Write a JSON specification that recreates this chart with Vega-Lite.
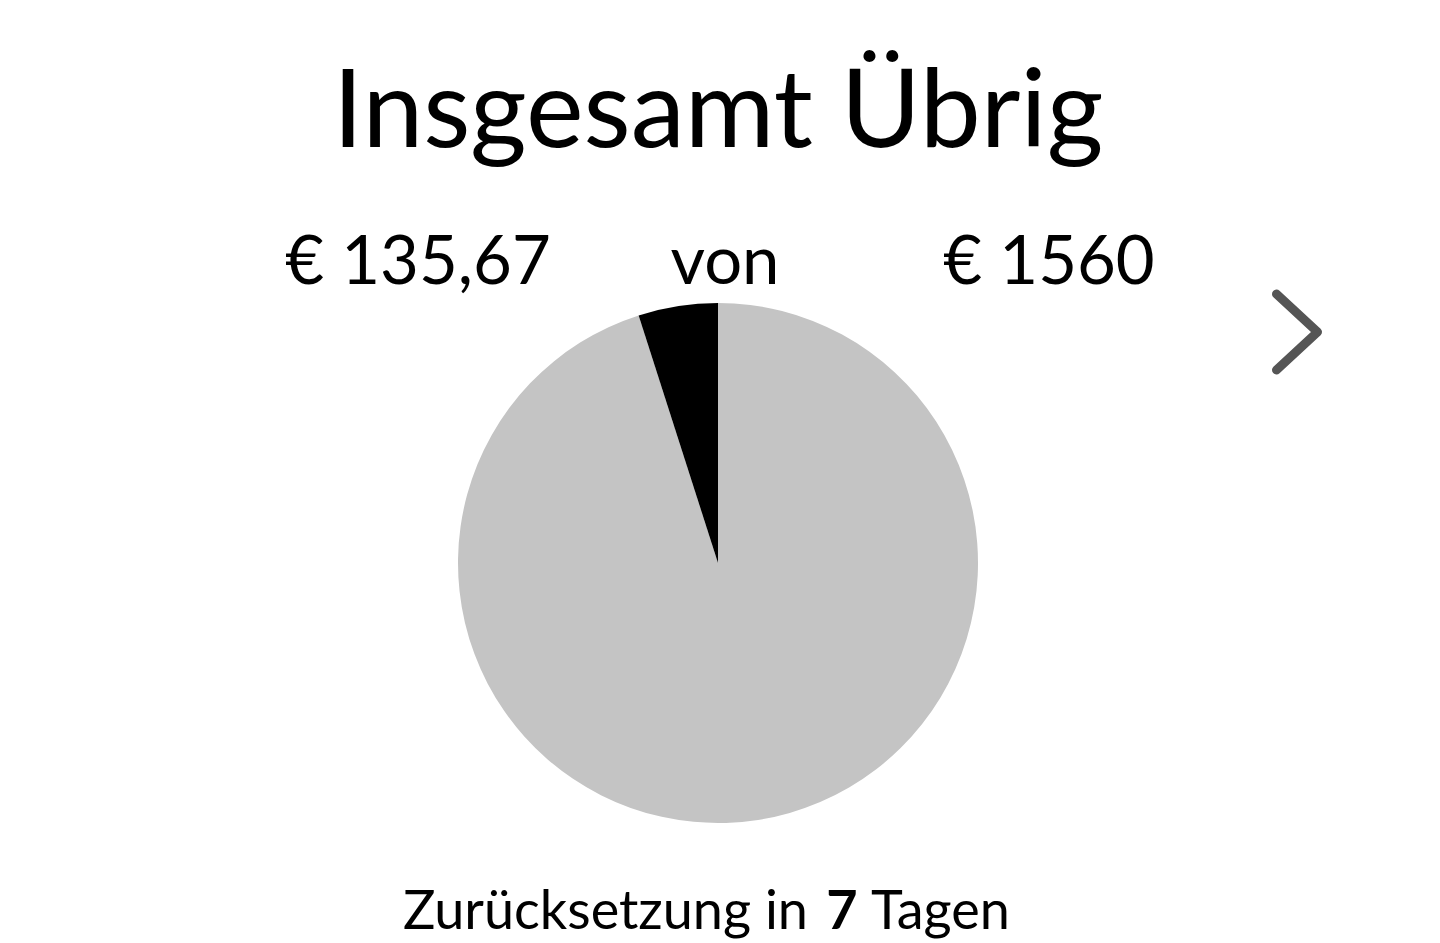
{
  "$schema": "https://vega.github.io/schema/vega-lite/v6.json",
  "width": 1436,
  "height": 758,
  "autosize": {"type": "none"},
  "padding": {"top": 184, "left": 0, "right": 0, "bottom": 0},
  "background": "white",
  "config": {"view": {"stroke": null}, "font": "Lato"},
  "title": {
    "text": "Insgesamt Übrig",
    "fontSize": 109,
    "font": "Lato",
    "fontWeight": 400,
    "color": "#000000",
    "anchor": "middle",
    "baseline": "alphabetic",
    "offset": 0,
    "dy": 72
  },
  "datasets": {
    "budget": [
      {"anteil": "Verbraucht", "wert": 1483, "ord": 1},
      {"anteil": "Übrig", "wert": 77, "ord": 2}
    ],
    "info": [
      {"uebrig": "€ 135,67", "von": "von", "gesamt": "€ 1560", "tage": "7"}
    ]
  },
  "layer": [
    {
      "data": {"name": "budget"},
      "mark": {"type": "arc", "outerRadius": 260, "stroke": null},
      "encoding": {
        "theta": {"field": "wert", "type": "quantitative", "stack": true},
        "order": {"field": "ord", "type": "quantitative"},
        "color": {
          "field": "anteil",
          "type": "nominal",
          "scale": {"domain": ["Verbraucht", "Übrig"], "range": ["#c4c4c4", "#000000"]},
          "legend": null
        }
      }
    },
    {
      "data": {"name": "info"},
      "mark": {"type": "text", "fontSize": 67, "font": "Lato", "align": "center", "baseline": "alphabetic", "dx": -300, "dy": -279, "color": "#000000"},
      "encoding": {"text": {"field": "uebrig", "type": "nominal"}}
    },
    {
      "data": {"name": "info"},
      "mark": {"type": "text", "fontSize": 67, "font": "Lato", "align": "center", "baseline": "alphabetic", "dx": 7, "dy": -279, "color": "#000000"},
      "encoding": {"text": {"field": "von", "type": "nominal"}}
    },
    {
      "data": {"name": "info"},
      "mark": {"type": "text", "fontSize": 67, "font": "Lato", "align": "center", "baseline": "alphabetic", "dx": 331, "dy": -279, "color": "#000000"},
      "encoding": {"text": {"field": "gesamt", "type": "nominal"}}
    },
    {
      "data": {"name": "info"},
      "mark": {"type": "text", "text": "Zurücksetzung in", "fontSize": 54, "font": "Lato", "align": "right", "baseline": "alphabetic", "dx": 90, "dy": 366, "color": "#000000"},
      "encoding": {}
    },
    {
      "data": {"name": "info"},
      "mark": {"type": "text", "fontSize": 54, "font": "Lato", "fontWeight": "bold", "align": "center", "baseline": "alphabetic", "dx": 124, "dy": 366, "color": "#000000"},
      "encoding": {"text": {"field": "tage", "type": "nominal"}}
    },
    {
      "data": {"name": "info"},
      "mark": {"type": "text", "text": "Tagen", "fontSize": 54, "font": "Lato", "align": "left", "baseline": "alphabetic", "dx": 153, "dy": 366, "color": "#000000"},
      "encoding": {}
    },
    {
      "data": {"name": "info"},
      "mark": {
        "type": "point",
        "shape": "M -0.54 -1 L 0.54 0 L -0.54 1",
        "size": 5776,
        "filled": false,
        "stroke": "#555555",
        "strokeWidth": 9,
        "strokeCap": "round",
        "strokeJoin": "round",
        "opacity": 1,
        "xOffset": 579,
        "yOffset": -231
      },
      "encoding": {}
    }
  ]
}
